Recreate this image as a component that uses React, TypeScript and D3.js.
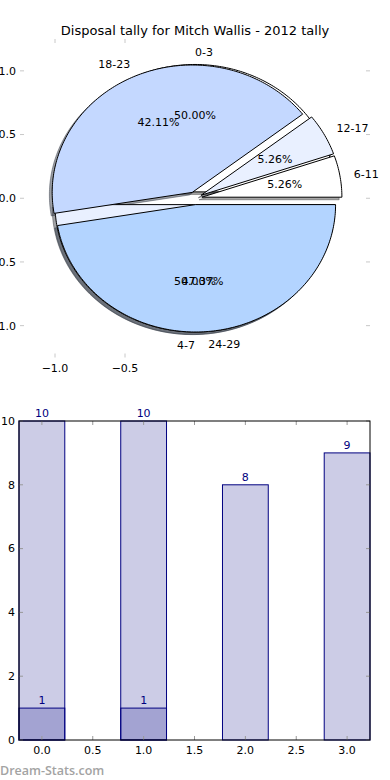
import * as d3 from "d3";

// pie 1 (drawn first, underneath)
const outerLabels = ["0-3", "4-7"];
const outerValues = [10, 10];
const outerColors = ["#ffffff", "#e9f0ff"];

// pie 2 (drawn on top)
const innerLabels = ["6-11", "12-17", "18-23", "24-29"];
const innerValues = [1, 1, 8, 9];
const innerColors = ["#ffffff", "#e9f0ff", "#c4d8ff", "#b3d4ff"];

const explode = 0.05;

// bar chart
const barPositions = [0, 1, 2, 3];
const pieTicksX = [-1.0, -0.5];
const pieTicksY = [-1.0, -0.5, 0.0, 0.5, 1.0];
const barTicksX = [0, 0.5, 1, 1.5, 2, 2.5, 3];
const barTicksY = [0, 2, 4, 6, 8, 10];

const title = "Disposal tally for Mitch Wallis - 2012 tally";
const font = "DejaVu Sans, sans-serif";

const px = d3.scaleLinear().domain([-1.25, 1.25]).range([20, 370]);
const py = d3.scaleLinear().domain([-1.25, 1.25]).range([357.5, 39]);

const bx = d3.scaleLinear().domain([-0.225, 3.225]).range([19, 370]);
const by = d3.scaleLinear().domain([0, 10]).range([740, 421]);

type Wedge = {
  label: string;
  color: string;
  pct: number;
  t1: number;
  t2: number;
  mid: number;
  cx: number;
  cy: number;
};

function makeWedges(values: number[], labels: string[], colors: string[]): Wedge[] {
  const total = d3.sum(values);
  const arcs = d3.pie<number>().sort(null).startAngle(0).endAngle(2 * Math.PI)(values);
  return arcs.map((a, i) => {
    const mid = (a.startAngle + a.endAngle) / 2;
    return {
      label: labels[i],
      color: colors[i],
      pct: (100 * values[i]) / total,
      t1: a.startAngle,
      t2: a.endAngle,
      mid,
      cx: explode * Math.cos(mid),
      cy: explode * Math.sin(mid),
    };
  });
}

const line = d3.line<[number, number]>().x((d) => px(d[0])).y((d) => py(d[1]));

function wedgePath(w: Wedge, dx = 0, dy = 0) {
  const pts: [number, number][] = [[w.cx + dx, w.cy + dy]];
  const n = Math.max(2, Math.ceil(((w.t2 - w.t1) * 180) / Math.PI));
  for (let k = 0; k <= n; k++) {
    const t = w.t1 + ((w.t2 - w.t1) * k) / n;
    pts.push([w.cx + dx + Math.cos(t), w.cy + dy + Math.sin(t)]);
  }
  return line(pts) + "Z";
}

function shade(c: string) {
  const rgb = d3.rgb(c);
  return d3.rgb(rgb.r * 0.3, rgb.g * 0.3, rgb.b * 0.3).toString();
}

export default function App() {
  const pieA = makeWedges(outerValues, outerLabels, outerColors);
  const pieB = makeWedges(innerValues, innerLabels, innerColors);
  const all = [...pieA, ...pieB];
  const barW = 0.45;

  return (
    <div style={{ position: "absolute", left: 0, top: 0 }}>
      <svg width={390} height={780} style={{ display: "block", background: "#fff" }}>
        <text x={195} y={35} textAnchor="middle" fontFamily={font} fontSize={13}>
          {title}
        </text>

        {/* pie axes ticks */}
        {pieTicksY.map((t) => (
          <g key={"py" + t}>
            <line x1={px(-1.25)} x2={px(-1.25) + 4} y1={py(t)} y2={py(t)} stroke="#c8c8c8" />
            <line x1={px(1.25)} x2={px(1.25) - 4} y1={py(t)} y2={py(t)} stroke="#c8c8c8" />
            <text x={px(-1.25) - 4} y={py(t)} dy="0.35em" textAnchor="end" fontFamily={font} fontSize={11}>
              {t < 0 ? "\u2212" + Math.abs(t).toFixed(1) : t.toFixed(1)}
            </text>
          </g>
        ))}
        {pieTicksX.map((t) => (
          <g key={"px" + t}>
            <line x1={px(t)} x2={px(t)} y1={py(1.25)} y2={py(1.25) + 4} stroke="#c8c8c8" />
            <line x1={px(t)} x2={px(t)} y1={py(-1.25)} y2={py(-1.25) - 4} stroke="#c8c8c8" />
            <text x={px(t)} y={py(-1.25) + 14} textAnchor="middle" fontFamily={font} fontSize={11}>
              {"\u2212" + Math.abs(t).toFixed(1)}
            </text>
          </g>
        ))}

        {/* shadows first, then wedges */}
        {all.map((w, i) => (
          <path
            key={"s" + i}
            d={wedgePath(w, -0.02, -0.02)}
            fill={shade(w.color)}
            fillOpacity={0.5}
            stroke={shade(w.color)}
            strokeOpacity={0.5}
          />
        ))}
        {all.map((w, i) => (
          <path key={"w" + i} d={wedgePath(w)} fill={w.color} stroke="#000" strokeWidth={1} />
        ))}
        {all.map((w, i) => (
          <g key={"t" + i} fontFamily={font} fontSize={11}>
            <text
              x={px(w.cx + 1.1 * Math.cos(w.mid))}
              y={py(w.cy + 1.1 * Math.sin(w.mid))}
              dy="0.35em"
              textAnchor={Math.cos(w.mid) > 0 ? "start" : "end"}
            >
              {w.label}
            </text>
            <text
              x={px(w.cx + 0.6 * Math.cos(w.mid))}
              y={py(w.cy + 0.6 * Math.sin(w.mid))}
              dy="0.35em"
              textAnchor="middle"
            >
              {w.pct.toFixed(2) + "%"}
            </text>
          </g>
        ))}

        {/* bar chart */}
        {[outerValues, innerValues].map((vals, s) =>
          vals.map((v, i) => (
            <g key={"b" + s + i}>
              <rect
                x={bx(barPositions[i] - barW / 2)}
                y={by(v)}
                width={bx(barW) - bx(0)}
                height={by(0) - by(v)}
                fill="#000080"
                fillOpacity={0.2}
                stroke="#000080"
                strokeWidth={1}
              />
              <text
                x={bx(barPositions[i])}
                y={by(v) - 4}
                textAnchor="middle"
                fontFamily={font}
                fontSize={11}
                fill="#000080"
              >
                {v}
              </text>
            </g>
          ))
        )}
        {barTicksY.map((t) => (
          <g key={"by" + t}>
            <line x1={bx(-0.225)} x2={bx(-0.225) + 4} y1={by(t)} y2={by(t)} stroke="#999" />
            <line x1={bx(3.225)} x2={bx(3.225) - 4} y1={by(t)} y2={by(t)} stroke="#999" />
            <text x={bx(-0.225) - 4} y={by(t)} dy="0.35em" textAnchor="end" fontFamily={font} fontSize={11}>
              {t}
            </text>
          </g>
        ))}
        {barTicksX.map((t) => (
          <g key={"bx" + t}>
            <line x1={bx(t)} x2={bx(t)} y1={by(10)} y2={by(10) + 4} stroke="#999" />
            <line x1={bx(t)} x2={bx(t)} y1={by(0)} y2={by(0) - 4} stroke="#999" />
            <text x={bx(t)} y={by(0) + 14} textAnchor="middle" fontFamily={font} fontSize={11}>
              {t.toFixed(1)}
            </text>
          </g>
        ))}
        <rect
          x={bx(-0.225)}
          y={by(10)}
          width={bx(3.225) - bx(-0.225)}
          height={by(0) - by(10)}
          fill="none"
          stroke="#000"
          strokeWidth={1}
        />

        <text x={0} y={775} fontFamily="Open Sans, sans-serif" fontSize={12.5} fontWeight={600} fill="#a3a3a3">
          Dream-Stats.com
        </text>
      </svg>
    </div>
  );
}
